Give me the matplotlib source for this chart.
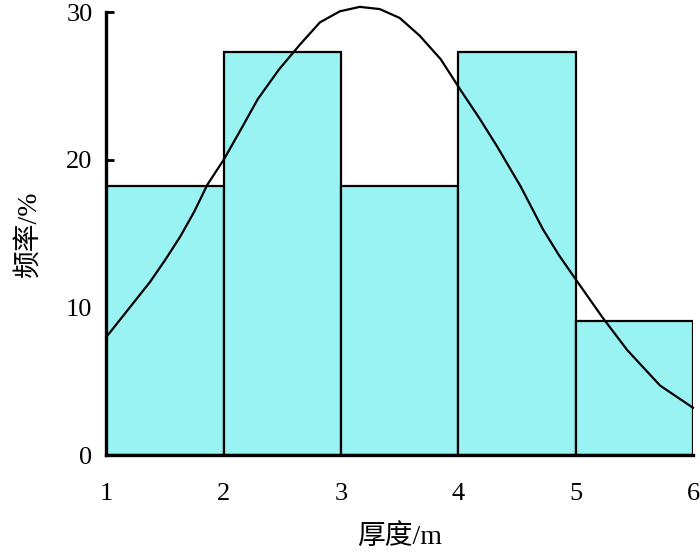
import matplotlib
matplotlib.use("Agg")
import matplotlib.pyplot as plt

bin_left = [1, 2, 3, 4, 5]
freq = [18.2, 27.3, 18.2, 27.3, 9.1]
curve_x = [1.0, 1.18, 1.37, 1.5, 1.63, 1.75, 1.86, 2.0, 2.15, 2.29, 2.47, 2.65, 2.82,
           2.99, 3.16, 3.33, 3.50, 3.67, 3.85, 4.02, 4.18, 4.33, 4.53, 4.72, 4.86,
           5.0, 5.23, 5.44, 5.72, 6.0]
curve_y = [8.0, 9.8, 11.7, 13.2, 14.8, 16.5, 18.3, 20.0, 22.1, 24.1, 26.1, 27.8, 29.3,
           30.05, 30.35, 30.2, 29.6, 28.4, 26.8, 24.7, 22.8, 20.9, 18.2, 15.3, 13.5,
           11.9, 9.3, 7.1, 4.7, 3.2]
xticks = [1, 2, 3, 4, 5, 6]
yticks = [0, 10, 20, 30]

serif = ['Liberation Serif', 'Noto Sans CJK SC']
plt.rcParams['font.family'] = serif

fig = plt.figure(figsize=(7, 5.6), dpi=100)
ax = fig.add_axes([0.152, 0.1875, 0.838, 0.791])

ax.bar(bin_left, freq, width=1, align='edge', color='#99F3F3',
       edgecolor='black', linewidth=1.6, zorder=2)
ax.plot(curve_x, curve_y, color='black', linewidth=1.6, zorder=3, clip_on=False,
        solid_joinstyle='round')

ax.set_xlim(1, 6)
ax.set_ylim(0, 30)
ax.set_xticks(xticks)
ax.set_yticks(yticks)
ax.tick_params(axis='x', length=0, pad=20, labelsize=19)
ax.tick_params(axis='y', direction='in', length=6, width=2, pad=10, labelsize=19)
for s in ['top', 'right']:
    ax.spines[s].set_visible(False)
for s in ['left', 'bottom']:
    ax.spines[s].set_linewidth(2.4)
ax.spines['bottom'].set_zorder(4)
ax.spines['left'].set_zorder(4)

ax.set_xlabel('厚度/m', fontsize=20, labelpad=14)
ax.set_ylabel('频率/%', fontsize=20, labelpad=18)

fig.savefig('out.png', dpi=100)
